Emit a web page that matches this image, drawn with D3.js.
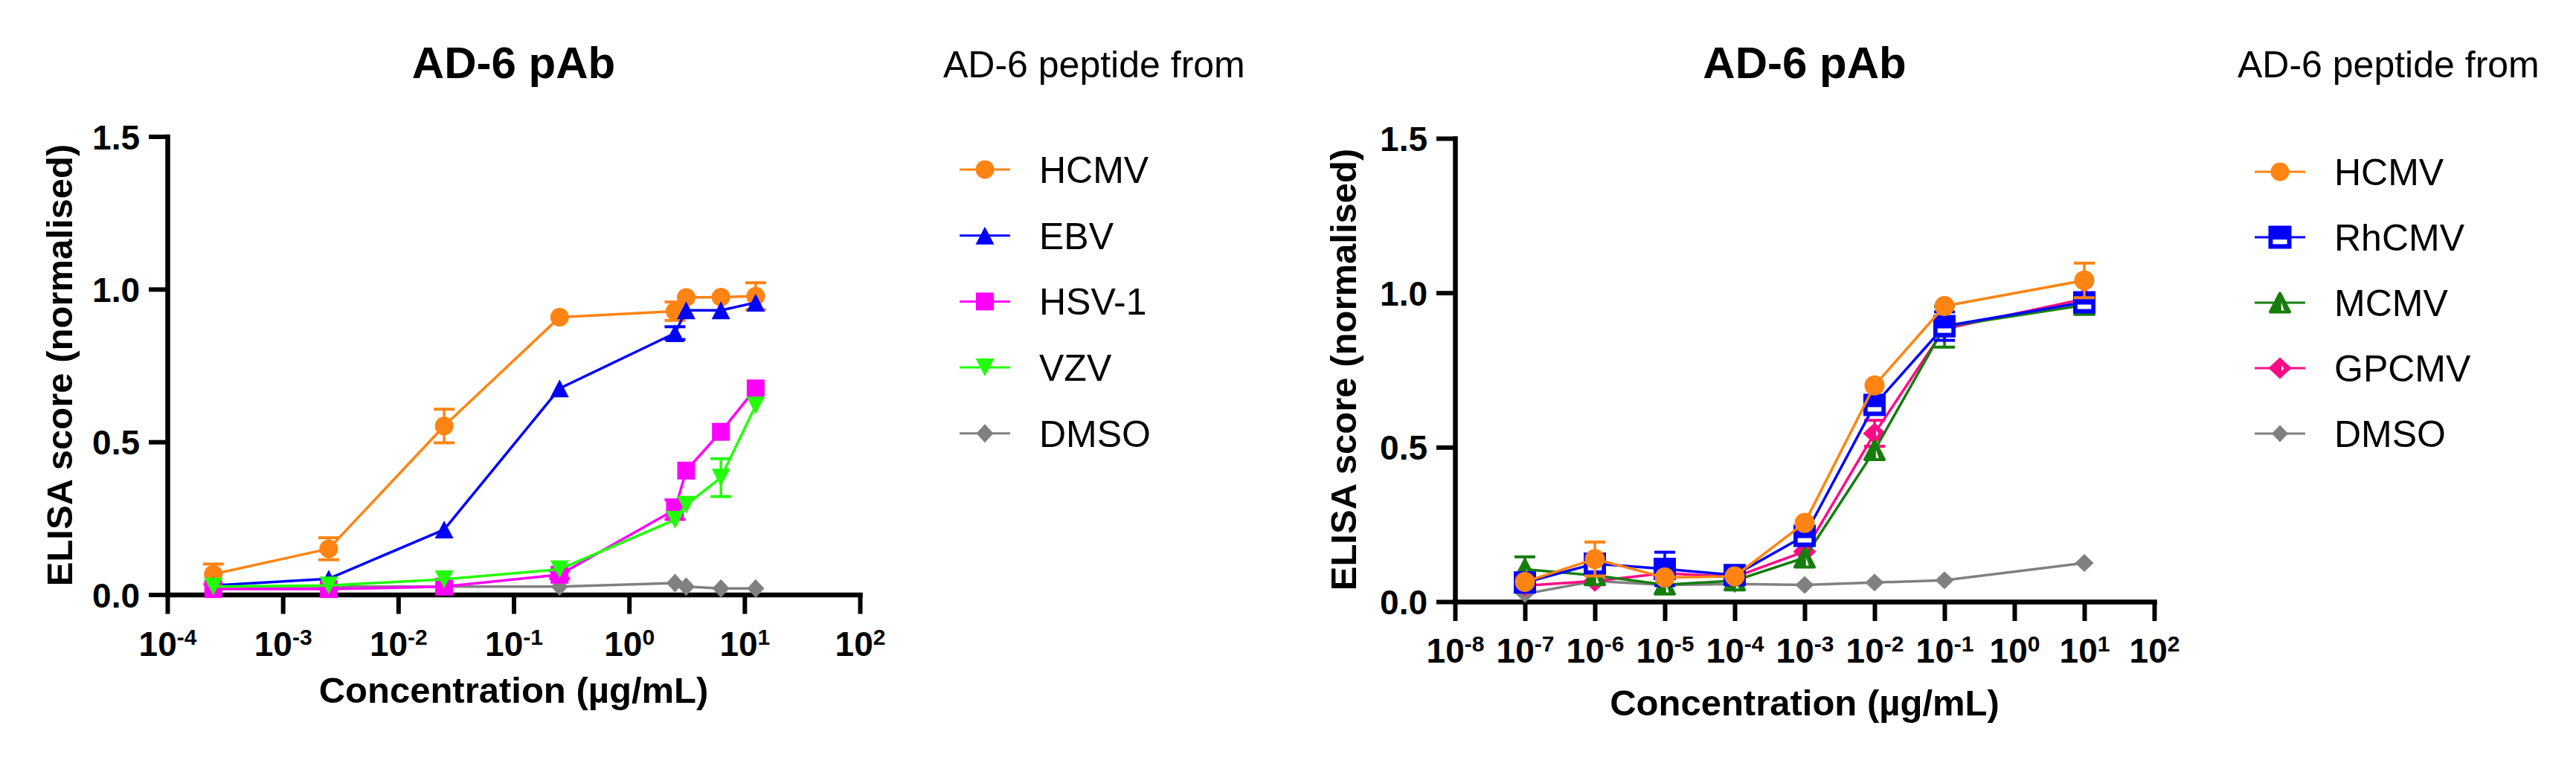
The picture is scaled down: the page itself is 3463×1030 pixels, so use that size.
<!DOCTYPE html>
<html><head><meta charset="utf-8">
<script src="https://cdn.jsdelivr.net/npm/d3@7"></script>
<style>
body{margin:0;background:#fff}
svg{display:block}
text{font-family:"Liberation Sans",Arial,Helvetica,sans-serif}
</style>
</head><body>
<svg id="c" width="3463" height="1030"></svg>
<script>
// ---------------- DATA ----------------
const titleText = "AD-6 pAb";
const legendTitle = "AD-6 peptide from";
const xLabel = "Concentration (µg/mL)";
const yLabel = "ELISA score (normalised)";
const yTicks = [0, 0.5, 1.0, 1.5];
const yTickLabels = ["0.0", "0.5", "1.0", "1.5"];

// left panel
const leftXTicks = [1e-4, 1e-3, 1e-2, 1e-1, 1e0, 1e1, 1e2];
const leftXExp = ["-4", "-3", "-2", "-1", "0", "1", "2"];
const leftConc = [0.00025, 0.0025, 0.025, 0.25, 2.5, 3.125, 6.25, 12.5];
const leftNames = ["HCMV", "EBV", "HSV-1", "VZV", "DMSO"];
const leftHCMV    = [0.067, 0.150, 0.552, 0.908, 0.928, 0.973, 0.974, 0.977];
const leftHCMVErr = [0.033, 0.036, 0.055, 0, 0.030, 0, 0, 0.044];
const leftEBV     = [0.030, 0.052, 0.213, 0.675, 0.856, 0.931, 0.931, 0.956];
const leftEBVErr  = [0, 0, 0, 0, 0.021, 0, 0, 0];
const leftHSV1    = [0.018, 0.018, 0.026, 0.065, 0.278, 0.406, 0.533, 0.675];
const leftHSV1Err = [0, 0, 0, 0.012, 0.032, 0, 0, 0];
const leftVZV     = [0.026, 0.030, 0.050, 0.083, 0.245, 0.294, 0.383, 0.619];
const leftVZVErr  = [0, 0, 0, 0, 0, 0, 0.062, 0];
const leftDMSO    = [0.025, 0.026, 0.026, 0.026, 0.038, 0.026, 0.020, 0.020];
const leftDMSOErr = [0, 0, 0, 0, 0, 0, 0, 0];

// right panel
const rightXTicks = [1e-8, 1e-7, 1e-6, 1e-5, 1e-4, 1e-3, 1e-2, 1e-1, 1e0, 1e1, 1e2];
const rightXExp = ["-8", "-7", "-6", "-5", "-4", "-3", "-2", "-1", "0", "1", "2"];
const rightConc = [1e-7, 1e-6, 1e-5, 1e-4, 1e-3, 1e-2, 1e-1, 10];
const rightNames = ["HCMV", "RhCMV", "MCMV", "GPCMV", "DMSO"];
const rightHCMV     = [0.064, 0.138, 0.078, 0.082, 0.255, 0.700, 0.957, 1.040];
const rightHCMVErr  = [0, 0.055, 0, 0, 0, 0, 0, 0.056];
const rightRhCMV    = [0.062, 0.123, 0.106, 0.086, 0.213, 0.637, 0.892, 0.969];
const rightRhCMVErr = [0, 0, 0.054, 0, 0, 0, 0.046, 0];
const rightMCMV     = [0.105, 0.085, 0.055, 0.068, 0.142, 0.490, 0.890, 0.960];
const rightMCMVErr  = [0.040, 0, 0, 0, 0, 0, 0.066, 0];
const rightGPCMV    = [0.052, 0.067, 0.092, 0.080, 0.162, 0.545, 0.883, 0.980];
const rightGPCMVErr = [0, 0, 0, 0, 0, 0.042, 0, 0];
const rightDMSO     = [0.025, 0.067, 0.054, 0.057, 0.054, 0.062, 0.069, 0.125];
const rightDMSOErr  = [0, 0, 0, 0, 0, 0, 0, 0];

// ---------------- STYLES ----------------
const C = {
  orange: "#FF8412", blue: "#0000FF", magenta: "#FF00FF", lime: "#22FF0A",
  gray: "#808080", dgreen: "#167D0C", pink: "#FF0A85"
};

const svg = d3.select("#c");
svg.append("rect").attr("width", 3463).attr("height", 1030).attr("fill", "#fff");

function marker(g, shape, sz, color, cx, cy) {
  const m = g.append("g").attr("transform", `translate(${cx},${cy})`);
  const w = sz[0], h = sz[1];
  const up = `M0,${-h/2}L${w/2},${h/2}L${-w/2},${h/2}Z`;
  const dia = `M0,${-h/2}L${w/2},0L0,${h/2}L${-w/2},0Z`;
  if (shape === "circle") {
    m.append("ellipse").attr("rx", w/2).attr("ry", h/2).attr("fill", color);
  } else if (shape === "up") {
    m.append("path").attr("d", up).attr("fill", color);
  } else if (shape === "down") {
    m.append("path").attr("d", `M0,${h/2}L${w/2},${-h/2}L${-w/2},${-h/2}Z`).attr("fill", color);
  } else if (shape === "square") {
    m.append("rect").attr("x", -w/2).attr("y", -h/2).attr("width", w).attr("height", h).attr("fill", color);
  } else if (shape === "diamond") {
    m.append("path").attr("d", dia).attr("fill", color);
  } else if (shape === "squareOpen") {
    m.append("rect").attr("x", -w/2).attr("y", -h/2).attr("width", w).attr("height", h).attr("fill", color);
    m.append("rect").attr("x", -w*0.31).attr("y", h*0.1).attr("width", w*0.62).attr("height", h*0.2).attr("fill", "#fff");
  } else if (shape === "upOpen") {
    const w2 = w - 4, h2 = h - 4;
    m.append("path").attr("d", `M0,${-h2/2}L${w2/2},${h2/2}L${-w2/2},${h2/2}Z`)
      .attr("fill", color).attr("stroke", color).attr("stroke-width", 4).attr("stroke-linejoin", "round");
    m.append("path").attr("d", `M${w*0.06},${-h*0.03}L${w*0.06},${h*0.36}L${w*0.19},${h*0.36}Z`).attr("fill", "#fff");
  } else if (shape === "diamondOpen") {
    m.append("path").attr("d", dia).attr("fill", color);
    m.append("path").attr("d", `M${w*0.07},${-h*0.14}L${w*0.07},${h*0.16}L${w*0.17},${h*0.01}Z`).attr("fill", "#fff");
  }
}

function panel(cfg) {
  const g = svg.append("g");
  const x = d3.scaleLog().domain([cfg.xTicks[0], cfg.xTicks[cfg.xTicks.length - 1]]).range(cfg.xRange);
  const y = d3.scaleLinear().domain([0, 1.5]).range(cfg.yRange);
  const axisX = cfg.xRange[0];
  const midX = (cfg.xRange[0] + cfg.xRange[1]) / 2;

  // title
  g.append("text").attr("x", midX).attr("y", 105).attr("text-anchor", "middle")
    .attr("font-size", 60).attr("font-weight", "bold").text(titleText);

  // y axis
  const ya = g.append("g").attr("transform", `translate(${axisX},0)`)
    .call(d3.axisLeft(y).tickValues(yTicks).tickSize(25).tickSizeOuter(0).tickPadding(12)
      .tickFormat((d, i) => yTickLabels[i]));
  ya.select(".domain").attr("stroke", "#000").attr("stroke-width", 6.5).attr("stroke-linecap", "square");
  ya.selectAll(".tick line").attr("stroke", "#000").attr("stroke-width", 6);
  ya.selectAll(".tick text").attr("font-size", 46).attr("font-weight", "bold")
    .attr("font-family", '"Liberation Sans",Arial,sans-serif').attr("fill", "#000").attr("dy", "0.36em");

  // x axis
  const xa = g.append("g").attr("transform", `translate(0,${y(0)})`)
    .call(d3.axisBottom(x).tickValues(cfg.xTicks).tickSize(26).tickSizeOuter(0).tickFormat(() => ""));
  xa.select(".domain").attr("stroke", "#000").attr("stroke-width", 6.5).attr("stroke-linecap", "square");
  xa.selectAll(".tick line").attr("stroke", "#000").attr("stroke-width", 6);
  xa.selectAll(".tick text").each(function(d, i) {
    const t = d3.select(this).attr("y", 82).attr("dy", null).attr("fill", "#000")
      .attr("font-family", '"Liberation Sans",Arial,sans-serif').attr("font-weight", "bold")
      .attr("font-size", 46).attr("text-anchor", "middle").text(null);
    t.append("tspan").text("10");
    t.append("tspan").attr("font-size", 30).attr("dy", -15).text(cfg.xExp[i]);
  });

  // axis titles
  g.append("text").attr("x", midX).attr("y", cfg.xLabelY).attr("text-anchor", "middle")
    .attr("font-size", 49).attr("font-weight", "bold").text(xLabel);
  g.append("text").attr("transform", `translate(${cfg.yLabelX},${cfg.yLabelCY}) rotate(-90)`)
    .attr("text-anchor", "middle").attr("font-size", 49).attr("font-weight", "bold").text(yLabel);

  // series
  const order = cfg.drawOrder;
  order.forEach(si => {
    const s = cfg.series[si];
    const sg = g.append("g");
    const pts = cfg.conc.map((c, i) => ({ c: c, v: s.values[i], e: s.err[i] }));
    sg.append("path").datum(pts)
      .attr("d", d3.line().x(d => x(d.c)).y(d => y(d.v)))
      .attr("fill", "none").attr("stroke", s.color).attr("stroke-width", 3.5).attr("stroke-linejoin", "round");
    pts.filter(d => d.e > 0).forEach(d => {
      const px = x(d.c), y1 = y(d.v + d.e), y2 = y(d.v - d.e);
      sg.append("line").attr("x1", px).attr("x2", px).attr("y1", y1).attr("y2", y2)
        .attr("stroke", s.color).attr("stroke-width", 3.5);
      [y1, y2].forEach(yy => sg.append("line").attr("x1", px - 14).attr("x2", px + 14)
        .attr("y1", yy).attr("y2", yy).attr("stroke", s.color).attr("stroke-width", 4));
    });
    pts.forEach(d => marker(sg, s.shape, s.size, s.color, x(d.c), y(d.v)));
  });

  // legend
  const L = cfg.legend;
  g.append("text").attr("x", L.titleX).attr("y", 104).attr("font-size", 50).text(legendTitle);
  cfg.series.forEach((s, i) => {
    const ly = L.y0 + i * L.dy;
    g.append("line").attr("x1", L.cx - 34).attr("x2", L.cx + 34).attr("y1", ly).attr("y2", ly)
      .attr("stroke", s.color).attr("stroke-width", 3);
    marker(g, s.shape, s.legendSize || s.size, s.color, L.cx, ly);
    g.append("text").attr("x", L.textX).attr("y", ly).attr("dy", "0.36em").attr("font-size", 50).text(s.name);
  });
}

panel({
  xTicks: leftXTicks, xExp: leftXExp, xRange: [225, 1156], yRange: [799.5, 183.5],
  conc: leftConc, xLabelY: 945, yLabelX: 97, yLabelCY: 491,
  drawOrder: [4, 0, 1, 2, 3],
  series: [
    { name: leftNames[0], values: leftHCMV, err: leftHCMVErr, color: C.orange, shape: "circle", size: [25, 25] },
    { name: leftNames[1], values: leftEBV, err: leftEBVErr, color: C.blue, shape: "up", size: [25, 24] },
    { name: leftNames[2], values: leftHSV1, err: leftHSV1Err, color: C.magenta, shape: "square", size: [24, 24] },
    { name: leftNames[3], values: leftVZV, err: leftVZVErr, color: C.lime, shape: "down", size: [25, 24] },
    { name: leftNames[4], values: leftDMSO, err: leftDMSOErr, color: C.gray, shape: "diamond", size: [23, 25] }
  ],
  legend: { titleX: 1268, cx: 1324, textX: 1397, y0: 228, dy: 88.7 }
});

panel({
  xTicks: rightXTicks, xExp: rightXExp, xRange: [1956, 2896], yRange: [809, 186],
  conc: rightConc, xLabelY: 962, yLabelX: 1823, yLabelCY: 497,
  drawOrder: [4, 3, 2, 1, 0],
  series: [
    { name: rightNames[0], values: rightHCMV, err: rightHCMVErr, color: C.orange, shape: "circle", size: [27, 27], legendSize: [25, 25] },
    { name: rightNames[1], values: rightRhCMV, err: rightRhCMVErr, color: C.blue, shape: "squareOpen", size: [30, 30], legendSize: [31, 31] },
    { name: rightNames[2], values: rightMCMV, err: rightMCMVErr, color: C.dgreen, shape: "upOpen", size: [30, 29] },
    { name: rightNames[3], values: rightGPCMV, err: rightGPCMVErr, color: C.pink, shape: "diamondOpen", size: [31, 29] },
    { name: rightNames[4], values: rightDMSO, err: rightDMSOErr, color: C.gray, shape: "diamond", size: [25, 24], legendSize: [22, 23] }
  ],
  legend: { titleX: 3008, cx: 3065, textX: 3138, y0: 231, dy: 88 }
});
</script>
</body></html>
